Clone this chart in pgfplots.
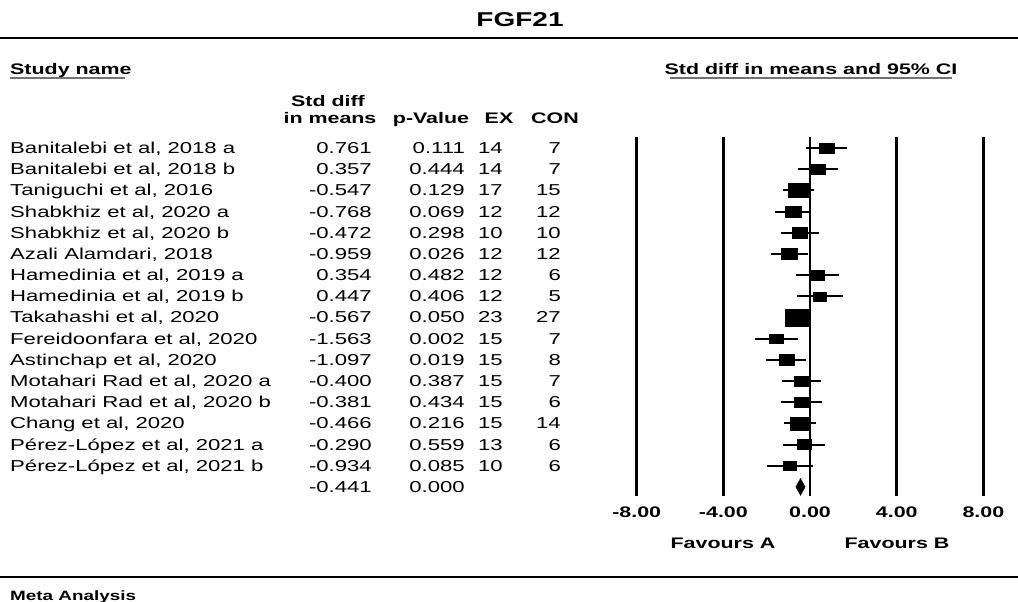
\documentclass[border=0pt]{standalone}
\usepackage{pgfplots}
\pgfplotsset{compat=1.18}
\usepackage{pgfplotstable}
\usepackage{fontspec}
\setmainfont{Liberation Sans}[FakeStretch=1.4]

% y = -row ; d = std diff in means ; ep = 1.96*SE ; s = box half-height (pt), from study weight
\pgfplotstableread{
y    d       ep     s
-1   0.761   0.936  5.09
-2   0.357   0.915  5.21
-3  -0.547   0.706  6.74
-4  -0.768   0.828  5.75
-5  -0.472   0.889  5.36
-6  -0.959   0.844  5.64
-7   0.354   0.987  4.83
-8   0.447   1.054  4.52
-9  -0.567   0.567  8.40
-10 -1.563   0.991  4.80
-11 -1.097   0.916  5.20
-12 -0.400   0.906  5.26
-13 -0.381   0.955  4.99
-14 -0.466   0.738  6.45
-15 -0.290   0.973  4.89
-16 -0.934   1.063  4.48
}\studies

\pgfplotstableread{
x       y
-0.655  -17
-0.441  -16.6
-0.227  -17
-0.441  -17.4
-0.655  -17
}\summary

\newcommand\bodyfont{\fontsize{15.8}{18}\selectfont}
\newcommand\boldfont{\fontsize{15.3}{18}\bfseries\selectfont}

\newcommand\rowtxt[6]{%
  \pgfmathsetmacro\yy{-(148+21.18*(#1-1)+5.5)}%
  \node[anchor=base west] at (10pt,\yy pt) {#2};
  \node[anchor=base east] at (372pt,\yy pt) {#3};
  \node[anchor=base east] at (465pt,\yy pt) {#4};
  \node[anchor=base east] at (503pt,\yy pt) {#5};
  \node[anchor=base east] at (561pt,\yy pt) {#6};
}

\begin{document}
\begin{tikzpicture}[every node/.style={inner sep=0pt, font=\bodyfont}]
\useasboundingbox (0,0) rectangle (1018pt,-602pt);

% title and rules
\node[anchor=center, font=\fontsize{20}{24}\bfseries\selectfont] at (520pt,-20pt) {FGF21};
\draw[line width=2.6pt] (0,-38pt) -- (1018pt,-38pt);
\draw[line width=2.4pt] (0,-577pt) -- (1018pt,-577pt);

% section headers
\node[anchor=base west, font=\boldfont] at (10pt,-74.5pt) {Study name};
\draw[line width=2pt, black!55] (10pt,-78pt) -- (125pt,-78pt);
\node[anchor=base, font=\boldfont] at (811pt,-74.5pt) {Std diff in means and 95\% CI};
\draw[line width=2pt, black!55] (670pt,-78pt) -- (952pt,-78pt);

% column headers
\node[anchor=base, font=\boldfont] at (328pt,-106.5pt) {Std diff};
\node[anchor=base, font=\boldfont] at (330pt,-123.5pt) {in means};
\node[anchor=base, font=\boldfont] at (431pt,-123.5pt) {p-Value};
\node[anchor=base, font=\boldfont] at (499pt,-123.5pt) {EX};
\node[anchor=base, font=\boldfont] at (555pt,-123.5pt) {CON};

% table rows
\rowtxt{1}{Banitalebi et al, 2018 a}{0.761}{0.111}{14}{7}
\rowtxt{2}{Banitalebi et al, 2018 b}{0.357}{0.444}{14}{7}
\rowtxt{3}{Taniguchi et al, 2016}{-0.547}{0.129}{17}{15}
\rowtxt{4}{Shabkhiz et al, 2020 a}{-0.768}{0.069}{12}{12}
\rowtxt{5}{Shabkhiz et al, 2020 b}{-0.472}{0.298}{10}{10}
\rowtxt{6}{Azali Alamdari, 2018}{-0.959}{0.026}{12}{12}
\rowtxt{7}{Hamedinia et al, 2019 a}{0.354}{0.482}{12}{6}
\rowtxt{8}{Hamedinia et al, 2019 b}{0.447}{0.406}{12}{5}
\rowtxt{9}{Takahashi et al, 2020}{-0.567}{0.050}{23}{27}
\rowtxt{10}{Fereidoonfara et al, 2020}{-1.563}{0.002}{15}{7}
\rowtxt{11}{Astinchap et al, 2020}{-1.097}{0.019}{15}{8}
\rowtxt{12}{Motahari Rad et al, 2020 a}{-0.400}{0.387}{15}{7}
\rowtxt{13}{Motahari Rad et al, 2020 b}{-0.381}{0.434}{15}{6}
\rowtxt{14}{Chang et al, 2020}{-0.466}{0.216}{15}{14}
\rowtxt{15}{Pérez-López et al, 2021 a}{-0.290}{0.559}{13}{6}
\rowtxt{16}{Pérez-López et al, 2021 b}{-0.934}{0.085}{10}{6}
\rowtxt{17}{}{-0.441}{0.000}{}{}

% favours labels and footer
\node[anchor=base, font=\boldfont] at (723pt,-548.5pt) {Favours A};
\node[anchor=base, font=\boldfont] at (897pt,-548.5pt) {Favours B};
\node[anchor=base west, font=\fontsize{13.5}{16}\bfseries\selectfont] at (10pt,-600pt) {Meta Analysis};

\begin{axis}[
  at={(636.7pt,-496pt)}, anchor=south west,
  scale only axis, width=346.7pt, height=359pt,
  xmin=-8, xmax=8, ymin=-17.43, ymax=-0.48,
  clip=false,
  axis line style={draw=none},
  ytick=\empty,
  xtick={-8,-4,0,4,8},
  xticklabels={-8.00,-4.00,0.00,4.00,8.00},
  major tick length=0pt,
  xmajorgrids,
  grid style={black, line width=2.6pt},
  xticklabel style={font=\boldfont, inner sep=0pt, anchor=center, yshift=-16pt},
]
\addplot[draw=none, mark=none, forget plot,
  error bars/.cd, x dir=both, x explicit, error mark=none,
  error bar style={line width=2pt, black}]
  table[x=d, y=y, x error=ep] {\studies};
\addplot[scatter, only marks, mark=square*,
  scatter/use mapped color={draw=black, fill=black},
  mark options={xscale=1.44},
  visualization depends on={\thisrow{s} \as \ms},
  scatter/@pre marker code/.append style={/tikz/mark size=\ms pt}]
  table[x=d, y=y] {\studies};
\addplot[fill=black, draw=black, line width=0.4pt] table[x=x, y=y] {\summary};
\end{axis}
\end{tikzpicture}
\end{document}
